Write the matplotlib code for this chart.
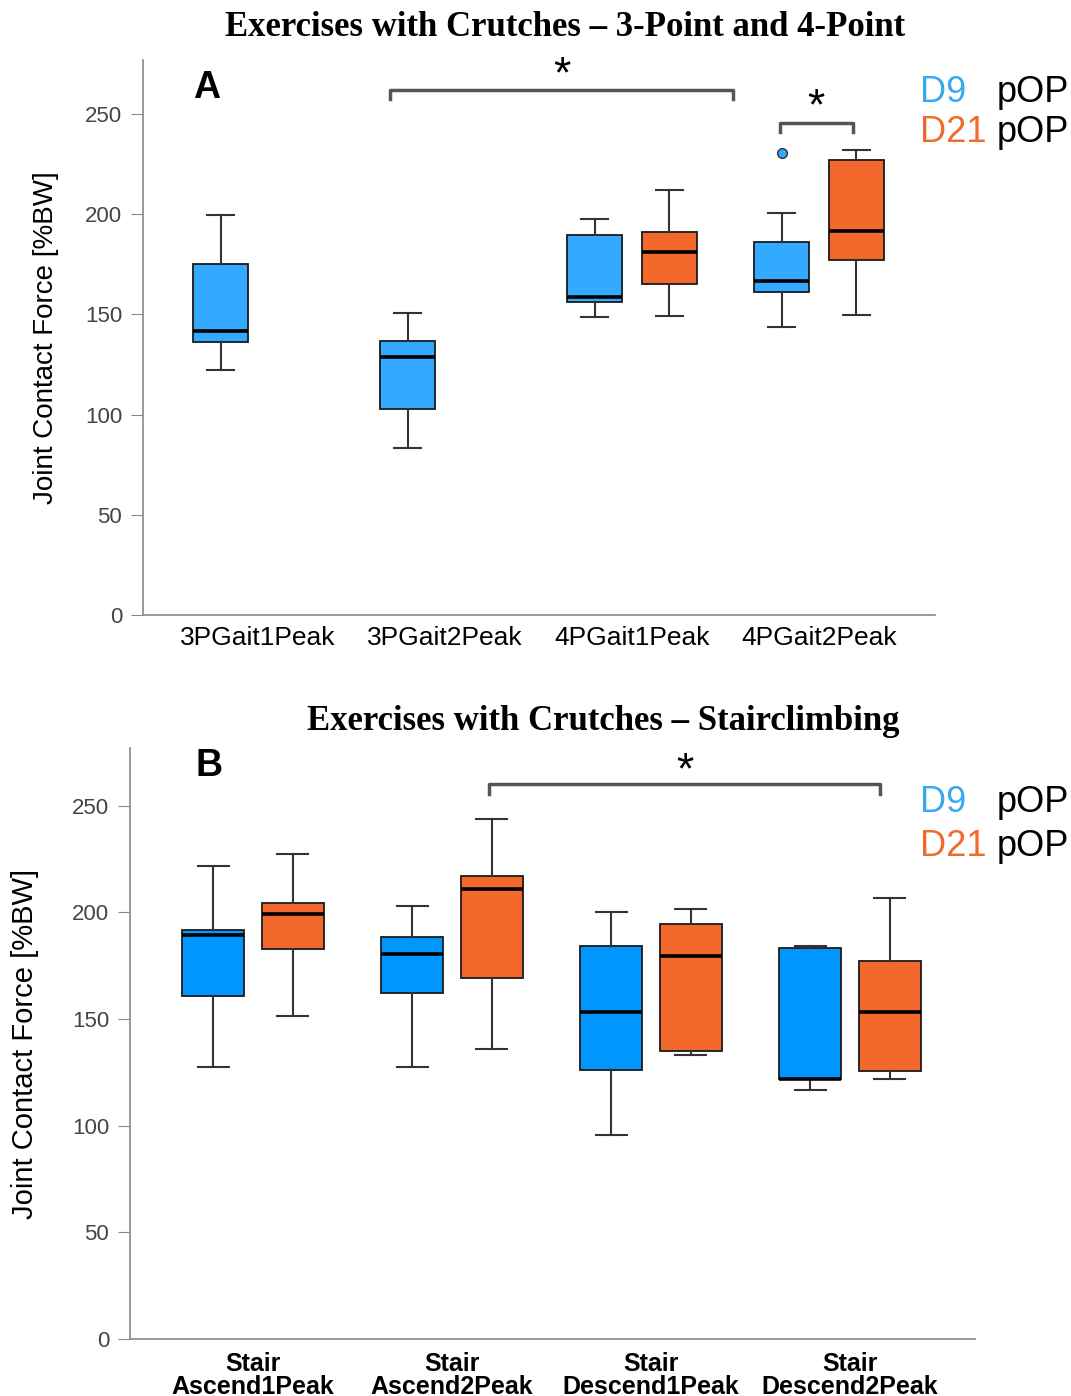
import matplotlib
matplotlib.use("Agg")
import matplotlib.pyplot as plt

# ---- data ----
# order: whislo, q1, med, q3, whishi
top_cats = ["3PGait1Peak", "3PGait2Peak", "4PGait1Peak", "4PGait2Peak"]
top_d9 = [
    [122, 136, 141.5, 175, 199.5],
    [83.5, 103, 128.5, 136.5, 150.5],
    [148.5, 156, 158.5, 189.5, 197.5],
    [143.5, 161, 166.5, 186, 200.5],
]
top_d9_fliers = [[], [], [], [230.5]]
top_d21 = [
    None,
    None,
    [149, 165, 181, 191, 212],
    [149.5, 177, 191.5, 227, 232],
]

bot_cats = ["Stair\nAscend1Peak", "Stair\nAscend2Peak", "Stair\nDescend1Peak", "Stair\nDescend2Peak"]
bot_d9 = [
    [127.7, 160.6, 189.2, 191.8, 221.5],
    [127.7, 162.4, 180.3, 188.4, 202.8],
    [95.8, 126.2, 153.1, 184.2, 200.1],
    [116.5, 121.8, 121.8, 183.4, 184.3],
]
bot_d21 = [
    [151.6, 182.9, 199.2, 204.3, 227.2],
    [135.9, 169.2, 210.9, 217, 243.7],
    [133.2, 135.2, 179.5, 194.5, 201.4],
    [121.8, 125.7, 153.2, 177.4, 206.8],
]

BLUE_A = "#33aaff"
BLUE_B = "#0096ff"
ORANGE = "#f2692b"
SANS = ["Liberation Sans", "DejaVu Sans"]
NARROW = ["Liberation Sans Narrow", "Liberation Sans", "DejaVu Sans"]
SERIF = ["Liberation Serif", "DejaVu Serif"]


def stats(vals, fliers=()):
    lo, q1, med, q3, hi = vals
    return dict(whislo=lo, q1=q1, med=med, q3=q3, whishi=hi, fliers=list(fliers))


def draw_boxes(ax, d9, d21, blue, width, fliers=None):
    for i in range(len(d9)):
        groups = [(d9[i], blue, -0.2, fliers[i] if fliers else [])]
        if d21[i] is not None:
            groups.append((d21[i], ORANGE, 0.2, []))
        for vals, col, off, fl in groups:
            ax.bxp([stats(vals, fl)], positions=[i + off], widths=width,
                   patch_artist=True, showfliers=True,
                   boxprops=dict(facecolor=col, edgecolor="#1a1a1a", linewidth=1.3),
                   medianprops=dict(color="black", linewidth=2.6),
                   whiskerprops=dict(color="#333333", linewidth=1.5),
                   capprops=dict(color="#333333", linewidth=1.5),
                   capwidths=width * 0.5,
                   flierprops=dict(marker="o", markerfacecolor=blue,
                                   markeredgecolor="#333333", markersize=7))


def style_axes(ax, ylab_size):
    for s in ["top", "right"]:
        ax.spines[s].set_visible(False)
    for s in ["left", "bottom"]:
        ax.spines[s].set_color("#888888")
        ax.spines[s].set_linewidth(1.2)
    ax.set_ylim(0, 277)
    ax.set_yticks([0, 50, 100, 150, 200, 250])
    ax.tick_params(axis="y", length=9, color="#888888", labelsize=16, labelcolor="#444444", pad=6)
    ax.tick_params(axis="x", length=0, pad=8)
    for t in ax.get_yticklabels():
        t.set_family(SANS)
    ax.set_ylabel("Joint Contact Force [%BW]", fontsize=ylab_size, family=SANS, color="black")


def bracket(ax, x0, x1, y, leg, sy):
    ax.plot([x0, x0, x1, x1], [y - leg, y, y, y - leg], color="#555555", lw=2.5,
            clip_on=False, solid_joinstyle="round")
    ax.text((x0 + x1) / 2, sy, "*", ha="center", va="center", fontsize=32,
            family=SANS, clip_on=False)


def legend_text(fig, y1, y2):
    fig.text(0.859, y1, "D9", color="#38a8f0", fontsize=26, family=SANS, va="center")
    fig.text(0.931, y1, "pOP", color="black", fontsize=26, family=SANS, va="center")
    fig.text(0.859, y2, "D21", color="#f06a2e", fontsize=26, family=SANS, va="center")
    fig.text(0.931, y2, "pOP", color="black", fontsize=26, family=SANS, va="center")


fig = plt.figure(figsize=(10.71, 13.96), dpi=100)

# ---- panel A ----
axA = fig.add_axes([0.1335, 0.5595, 0.7395, 0.3976])
draw_boxes(axA, top_d9, top_d21, BLUE_A, 0.295, top_d9_fliers)
style_axes(axA, 20)
axA.set_xlim(-0.615, 3.62)
axA.set_xticks(range(len(top_cats)))
axA.set_xticklabels(top_cats, fontsize=19, family=SANS)
axA.yaxis.set_label_coords(-0.106, 0.5)
bracket(axA, 0.706, 2.54, 262, 4.5, 269)
bracket(axA, 2.79, 3.18, 245.5, 4.5, 253)
axA.text(0.063, 0.95, "A", transform=axA.transAxes, fontsize=27, fontweight="bold",
         family=SANS, ha="left", va="center")
fig.text(0.528, 1 - 27 / 1396, "Exercises with Crutches \u2013 3-Point and 4-Point",
         fontsize=25, fontweight="bold", family=SERIF, ha="center", va="center")
legend_text(fig, 1 - 92 / 1396, 1 - 133 / 1396)

# ---- panel B ----
axB = fig.add_axes([0.1214, 0.0408, 0.789, 0.4234])
draw_boxes(axB, bot_d9, bot_d21, BLUE_B, 0.31)
style_axes(axB, 21)
axB.set_xlim(-0.618, 3.628)
axB.set_xticks(range(len(bot_cats)))
axB.set_xticklabels(bot_cats, fontsize=18, family=NARROW, fontweight="bold",
                    linespacing=0.95)
axB.tick_params(axis="x", pad=9)
axB.yaxis.set_label_coords(-0.108, 0.5)
bracket(axB, 1.186, 3.15, 260.3, 5, 266)
axB.text(0.078, 0.97, "B", transform=axB.transAxes, fontsize=27, fontweight="bold",
         family=SANS, ha="left", va="center")
fig.text(0.563, 1 - 722 / 1396, "Exercises with Crutches \u2013 Stairclimbing",
         fontsize=25, fontweight="bold", family=SERIF, ha="center", va="center")
legend_text(fig, 1 - 803 / 1396, 1 - 846 / 1396)

fig.savefig("out.png", dpi=100, facecolor="white")
